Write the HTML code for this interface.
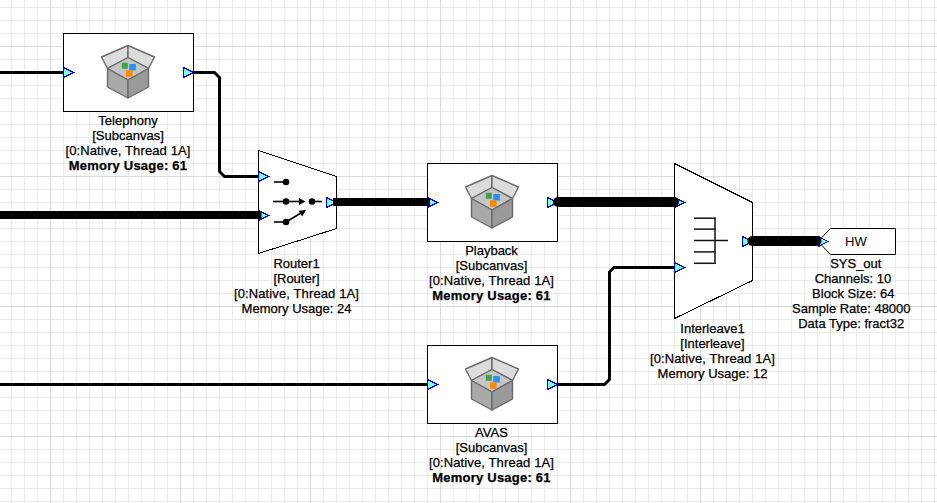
<!DOCTYPE html>
<html><head><meta charset="utf-8"><style>
html,body{margin:0;padding:0;background:#fff;}
#c{position:relative;width:937px;height:503px;overflow:hidden;background:#fff;}
svg{position:absolute;left:0;top:0;}
#c div.l,#c > div:not(.hw){position:absolute;width:200px;text-align:center;font-family:"Liberation Sans",sans-serif;font-size:13px;line-height:15px;color:#000;white-space:nowrap;-webkit-text-stroke:0.25px #000;}
.b{font-weight:bold;letter-spacing:0.22px;}
.n{letter-spacing:0.12px;}
.hw{position:absolute;font-family:"Liberation Sans",sans-serif;font-size:13px;line-height:15px;color:#000;}
</style></head><body><div id="c">
<svg width="937" height="503" viewBox="0 0 937 503">
<g shape-rendering="crispEdges">
<rect x="11" y="0" width="1" height="503" fill="#ebebeb"/>
<rect x="24" y="0" width="1" height="503" fill="#ebebeb"/>
<rect x="37" y="0" width="1" height="503" fill="#ebebeb"/>
<rect x="63" y="0" width="1" height="503" fill="#ebebeb"/>
<rect x="76" y="0" width="1" height="503" fill="#ebebeb"/>
<rect x="89" y="0" width="1" height="503" fill="#ebebeb"/>
<rect x="102" y="0" width="1" height="503" fill="#ebebeb"/>
<rect x="115" y="0" width="1" height="503" fill="#ebebeb"/>
<rect x="128" y="0" width="1" height="503" fill="#ebebeb"/>
<rect x="141" y="0" width="1" height="503" fill="#ebebeb"/>
<rect x="154" y="0" width="1" height="503" fill="#ebebeb"/>
<rect x="167" y="0" width="1" height="503" fill="#ebebeb"/>
<rect x="193" y="0" width="1" height="503" fill="#ebebeb"/>
<rect x="206" y="0" width="1" height="503" fill="#ebebeb"/>
<rect x="219" y="0" width="1" height="503" fill="#ebebeb"/>
<rect x="232" y="0" width="1" height="503" fill="#ebebeb"/>
<rect x="245" y="0" width="1" height="503" fill="#ebebeb"/>
<rect x="258" y="0" width="1" height="503" fill="#ebebeb"/>
<rect x="271" y="0" width="1" height="503" fill="#ebebeb"/>
<rect x="284" y="0" width="1" height="503" fill="#ebebeb"/>
<rect x="297" y="0" width="1" height="503" fill="#ebebeb"/>
<rect x="323" y="0" width="1" height="503" fill="#ebebeb"/>
<rect x="336" y="0" width="1" height="503" fill="#ebebeb"/>
<rect x="349" y="0" width="1" height="503" fill="#ebebeb"/>
<rect x="362" y="0" width="1" height="503" fill="#ebebeb"/>
<rect x="375" y="0" width="1" height="503" fill="#ebebeb"/>
<rect x="388" y="0" width="1" height="503" fill="#ebebeb"/>
<rect x="401" y="0" width="1" height="503" fill="#ebebeb"/>
<rect x="414" y="0" width="1" height="503" fill="#ebebeb"/>
<rect x="427" y="0" width="1" height="503" fill="#ebebeb"/>
<rect x="453" y="0" width="1" height="503" fill="#ebebeb"/>
<rect x="466" y="0" width="1" height="503" fill="#ebebeb"/>
<rect x="479" y="0" width="1" height="503" fill="#ebebeb"/>
<rect x="492" y="0" width="1" height="503" fill="#ebebeb"/>
<rect x="505" y="0" width="1" height="503" fill="#ebebeb"/>
<rect x="518" y="0" width="1" height="503" fill="#ebebeb"/>
<rect x="531" y="0" width="1" height="503" fill="#ebebeb"/>
<rect x="544" y="0" width="1" height="503" fill="#ebebeb"/>
<rect x="557" y="0" width="1" height="503" fill="#ebebeb"/>
<rect x="583" y="0" width="1" height="503" fill="#ebebeb"/>
<rect x="596" y="0" width="1" height="503" fill="#ebebeb"/>
<rect x="609" y="0" width="1" height="503" fill="#ebebeb"/>
<rect x="622" y="0" width="1" height="503" fill="#ebebeb"/>
<rect x="635" y="0" width="1" height="503" fill="#ebebeb"/>
<rect x="648" y="0" width="1" height="503" fill="#ebebeb"/>
<rect x="661" y="0" width="1" height="503" fill="#ebebeb"/>
<rect x="674" y="0" width="1" height="503" fill="#ebebeb"/>
<rect x="687" y="0" width="1" height="503" fill="#ebebeb"/>
<rect x="713" y="0" width="1" height="503" fill="#ebebeb"/>
<rect x="726" y="0" width="1" height="503" fill="#ebebeb"/>
<rect x="739" y="0" width="1" height="503" fill="#ebebeb"/>
<rect x="752" y="0" width="1" height="503" fill="#ebebeb"/>
<rect x="765" y="0" width="1" height="503" fill="#ebebeb"/>
<rect x="778" y="0" width="1" height="503" fill="#ebebeb"/>
<rect x="791" y="0" width="1" height="503" fill="#ebebeb"/>
<rect x="804" y="0" width="1" height="503" fill="#ebebeb"/>
<rect x="817" y="0" width="1" height="503" fill="#ebebeb"/>
<rect x="843" y="0" width="1" height="503" fill="#ebebeb"/>
<rect x="856" y="0" width="1" height="503" fill="#ebebeb"/>
<rect x="869" y="0" width="1" height="503" fill="#ebebeb"/>
<rect x="882" y="0" width="1" height="503" fill="#ebebeb"/>
<rect x="895" y="0" width="1" height="503" fill="#ebebeb"/>
<rect x="908" y="0" width="1" height="503" fill="#ebebeb"/>
<rect x="921" y="0" width="1" height="503" fill="#ebebeb"/>
<rect x="934" y="0" width="1" height="503" fill="#ebebeb"/>
<rect x="0" y="7" width="937" height="1" fill="#ebebeb"/>
<rect x="0" y="20" width="937" height="1" fill="#ebebeb"/>
<rect x="0" y="33" width="937" height="1" fill="#ebebeb"/>
<rect x="0" y="59" width="937" height="1" fill="#ebebeb"/>
<rect x="0" y="72" width="937" height="1" fill="#ebebeb"/>
<rect x="0" y="85" width="937" height="1" fill="#ebebeb"/>
<rect x="0" y="98" width="937" height="1" fill="#ebebeb"/>
<rect x="0" y="111" width="937" height="1" fill="#ebebeb"/>
<rect x="0" y="124" width="937" height="1" fill="#ebebeb"/>
<rect x="0" y="137" width="937" height="1" fill="#ebebeb"/>
<rect x="0" y="150" width="937" height="1" fill="#ebebeb"/>
<rect x="0" y="163" width="937" height="1" fill="#ebebeb"/>
<rect x="0" y="189" width="937" height="1" fill="#ebebeb"/>
<rect x="0" y="202" width="937" height="1" fill="#ebebeb"/>
<rect x="0" y="215" width="937" height="1" fill="#ebebeb"/>
<rect x="0" y="228" width="937" height="1" fill="#ebebeb"/>
<rect x="0" y="241" width="937" height="1" fill="#ebebeb"/>
<rect x="0" y="254" width="937" height="1" fill="#ebebeb"/>
<rect x="0" y="267" width="937" height="1" fill="#ebebeb"/>
<rect x="0" y="280" width="937" height="1" fill="#ebebeb"/>
<rect x="0" y="293" width="937" height="1" fill="#ebebeb"/>
<rect x="0" y="319" width="937" height="1" fill="#ebebeb"/>
<rect x="0" y="332" width="937" height="1" fill="#ebebeb"/>
<rect x="0" y="345" width="937" height="1" fill="#ebebeb"/>
<rect x="0" y="358" width="937" height="1" fill="#ebebeb"/>
<rect x="0" y="371" width="937" height="1" fill="#ebebeb"/>
<rect x="0" y="384" width="937" height="1" fill="#ebebeb"/>
<rect x="0" y="397" width="937" height="1" fill="#ebebeb"/>
<rect x="0" y="410" width="937" height="1" fill="#ebebeb"/>
<rect x="0" y="423" width="937" height="1" fill="#ebebeb"/>
<rect x="0" y="449" width="937" height="1" fill="#ebebeb"/>
<rect x="0" y="462" width="937" height="1" fill="#ebebeb"/>
<rect x="0" y="475" width="937" height="1" fill="#ebebeb"/>
<rect x="0" y="488" width="937" height="1" fill="#ebebeb"/>
<rect x="0" y="501" width="937" height="1" fill="#ebebeb"/>
<rect x="50" y="0" width="1" height="503" fill="#d9d9d9"/>
<rect x="180" y="0" width="1" height="503" fill="#d9d9d9"/>
<rect x="310" y="0" width="1" height="503" fill="#d9d9d9"/>
<rect x="440" y="0" width="1" height="503" fill="#d9d9d9"/>
<rect x="570" y="0" width="1" height="503" fill="#d9d9d9"/>
<rect x="700" y="0" width="1" height="503" fill="#d9d9d9"/>
<rect x="830" y="0" width="1" height="503" fill="#d9d9d9"/>
<rect x="0" y="46" width="937" height="1" fill="#d9d9d9"/>
<rect x="0" y="176" width="937" height="1" fill="#d9d9d9"/>
<rect x="0" y="306" width="937" height="1" fill="#d9d9d9"/>
<rect x="0" y="436" width="937" height="1" fill="#d9d9d9"/>
</g>
<rect x="63.5" y="33.5" width="130" height="78" fill="#fff" stroke="#000" stroke-width="1"/>
<polygon points="107.5,68.5 101.5,57 128,45.5 128,57.5" fill="#dcdcdc" stroke="#6b6b6b" stroke-width="1.4" stroke-linejoin="round"/>
<polygon points="128,57.5 128,45.5 154.5,57 148.5,68.5" fill="#dcdcdc" stroke="#6b6b6b" stroke-width="1.4" stroke-linejoin="round"/>
<polygon points="107.5,68.5 128,57.5 148.5,68.5 128,80" fill="#c6c6c6" stroke="#6b6b6b" stroke-width="1.4" stroke-linejoin="round"/>
<rect x="121.8" y="62.8" width="6" height="6" fill="#3da34a"/>
<rect x="129.3" y="64" width="6.5" height="6.5" fill="#2a8ff0"/>
<rect x="126" y="70.3" width="6.5" height="6.5" fill="#ff8a00"/>
<polygon points="107.5,68.5 128,80 128,98 107.5,87" fill="#a9a9a9" stroke="#6b6b6b" stroke-width="1.4" stroke-linejoin="round"/>
<polygon points="128,80 148.5,68.5 148.5,87 128,98" fill="#9a9a9a" stroke="#6b6b6b" stroke-width="1.4" stroke-linejoin="round"/>
<polygon points="63.5,67.5 73.5,72.5 63.5,77.5" fill="#7fffd4" stroke="#0000ff" stroke-width="1" stroke-miterlimit="10" shape-rendering="crispEdges"/>
<polygon points="183.5,67.5 193.5,72.5 183.5,77.5" fill="#7fffd4" stroke="#0000ff" stroke-width="1" stroke-miterlimit="10" shape-rendering="crispEdges"/>
<rect x="427.5" y="163.5" width="130" height="78" fill="#fff" stroke="#000" stroke-width="1"/>
<polygon points="471.5,198.5 465.5,187 492,175.5 492,187.5" fill="#dcdcdc" stroke="#6b6b6b" stroke-width="1.4" stroke-linejoin="round"/>
<polygon points="492,187.5 492,175.5 518.5,187 512.5,198.5" fill="#dcdcdc" stroke="#6b6b6b" stroke-width="1.4" stroke-linejoin="round"/>
<polygon points="471.5,198.5 492,187.5 512.5,198.5 492,210" fill="#c6c6c6" stroke="#6b6b6b" stroke-width="1.4" stroke-linejoin="round"/>
<rect x="485.8" y="192.8" width="6" height="6" fill="#3da34a"/>
<rect x="493.3" y="194" width="6.5" height="6.5" fill="#2a8ff0"/>
<rect x="490" y="200.3" width="6.5" height="6.5" fill="#ff8a00"/>
<polygon points="471.5,198.5 492,210 492,228 471.5,217" fill="#a9a9a9" stroke="#6b6b6b" stroke-width="1.4" stroke-linejoin="round"/>
<polygon points="492,210 512.5,198.5 512.5,217 492,228" fill="#9a9a9a" stroke="#6b6b6b" stroke-width="1.4" stroke-linejoin="round"/>
<polygon points="427.5,197.5 437.5,202.5 427.5,207.5" fill="#7fffd4" stroke="#0000ff" stroke-width="1" stroke-miterlimit="10" shape-rendering="crispEdges"/>
<polygon points="547.5,197.5 557.5,202.5 547.5,207.5" fill="#7fffd4" stroke="#0000ff" stroke-width="1" stroke-miterlimit="10" shape-rendering="crispEdges"/>
<rect x="427.5" y="345.5" width="130" height="78" fill="#fff" stroke="#000" stroke-width="1"/>
<polygon points="471.5,380.5 465.5,369 492,357.5 492,369.5" fill="#dcdcdc" stroke="#6b6b6b" stroke-width="1.4" stroke-linejoin="round"/>
<polygon points="492,369.5 492,357.5 518.5,369 512.5,380.5" fill="#dcdcdc" stroke="#6b6b6b" stroke-width="1.4" stroke-linejoin="round"/>
<polygon points="471.5,380.5 492,369.5 512.5,380.5 492,392" fill="#c6c6c6" stroke="#6b6b6b" stroke-width="1.4" stroke-linejoin="round"/>
<rect x="485.8" y="374.8" width="6" height="6" fill="#3da34a"/>
<rect x="493.3" y="376" width="6.5" height="6.5" fill="#2a8ff0"/>
<rect x="490" y="382.3" width="6.5" height="6.5" fill="#ff8a00"/>
<polygon points="471.5,380.5 492,392 492,410 471.5,399" fill="#a9a9a9" stroke="#6b6b6b" stroke-width="1.4" stroke-linejoin="round"/>
<polygon points="492,392 512.5,380.5 512.5,399 492,410" fill="#9a9a9a" stroke="#6b6b6b" stroke-width="1.4" stroke-linejoin="round"/>
<polygon points="427.5,379.5 437.5,384.5 427.5,389.5" fill="#7fffd4" stroke="#0000ff" stroke-width="1" stroke-miterlimit="10" shape-rendering="crispEdges"/>
<polygon points="547.5,379.5 557.5,384.5 547.5,389.5" fill="#7fffd4" stroke="#0000ff" stroke-width="1" stroke-miterlimit="10" shape-rendering="crispEdges"/>
<polygon points="258.5,150.5 336.5,176.5 336.5,228.5 258.5,253.5" fill="#fff" stroke="#000" stroke-width="1" shape-rendering="crispEdges"/>
<line x1="274" y1="182" x2="286" y2="182" stroke="#000" stroke-width="1.6"/>
<circle cx="286" cy="182" r="3.3" fill="#000"/>
<line x1="273" y1="201.5" x2="300" y2="201.5" stroke="#000" stroke-width="1.6"/>
<circle cx="286" cy="201.5" r="3.3" fill="#000"/>
<polygon points="299,198 305.5,201.5 299,205" fill="#000"/>
<circle cx="312" cy="201.5" r="3.3" fill="#000"/>
<line x1="312" y1="201.5" x2="322" y2="201.5" stroke="#000" stroke-width="1.6"/>
<line x1="274" y1="222" x2="286" y2="222" stroke="#000" stroke-width="1.6"/>
<circle cx="286" cy="222" r="3.3" fill="#000"/>
<line x1="286" y1="222" x2="301" y2="213" stroke="#000" stroke-width="1.6"/>
<polygon points="306,210 298.5,210.8 302.2,216.5" fill="#000"/>
<polygon points="258.5,171.5 268.5,176.5 258.5,181.5" fill="#7fffd4" stroke="#0000ff" stroke-width="1" stroke-miterlimit="10" shape-rendering="crispEdges"/>
<polygon points="258.5,210.5 268.5,215.5 258.5,220.5" fill="#7fffd4" stroke="#0000ff" stroke-width="1" stroke-miterlimit="10" shape-rendering="crispEdges"/>
<polygon points="326.5,197.5 336.5,202.5 326.5,207.5" fill="#7fffd4" stroke="#0000ff" stroke-width="1" stroke-miterlimit="10" shape-rendering="crispEdges"/>
<polygon points="674.5,163.5 752.5,202.5 752.5,280.5 674.5,318.5" fill="#fff" stroke="#000" stroke-width="1" shape-rendering="crispEdges"/>
<line x1="694" y1="218.2" x2="715.5" y2="218.2" stroke="#111" stroke-width="1.5"/>
<line x1="694" y1="229.1" x2="715.5" y2="229.1" stroke="#111" stroke-width="1.5"/>
<line x1="694" y1="240.5" x2="715.5" y2="240.5" stroke="#111" stroke-width="1.5"/>
<line x1="694" y1="251.9" x2="715.5" y2="251.9" stroke="#111" stroke-width="1.5"/>
<line x1="694" y1="263.3" x2="715.5" y2="263.3" stroke="#111" stroke-width="1.5"/>
<line x1="715" y1="217.5" x2="715" y2="264" stroke="#111" stroke-width="1.5"/>
<line x1="715" y1="240.5" x2="728" y2="240.5" stroke="#111" stroke-width="1.5"/>
<polygon points="674.5,197.5 684.5,202.5 674.5,207.5" fill="#7fffd4" stroke="#0000ff" stroke-width="1" stroke-miterlimit="10" shape-rendering="crispEdges"/>
<polygon points="674.5,262.5 684.5,267.5 674.5,272.5" fill="#7fffd4" stroke="#0000ff" stroke-width="1" stroke-miterlimit="10" shape-rendering="crispEdges"/>
<polygon points="742.5,236.5 752.5,241.5 742.5,246.5" fill="#7fffd4" stroke="#0000ff" stroke-width="1" stroke-miterlimit="10" shape-rendering="crispEdges"/>
<polygon points="818,241.5 830.5,228.5 895.5,228.5 895.5,254.5 830.5,254.5" fill="#fff" stroke="#000" stroke-width="1"/>
<polygon points="818.5,236.5 828,241.5 818.5,246.5" fill="#7fffd4" stroke="#0000ff" stroke-width="1" shape-rendering="crispEdges"/>
<path d="M0,72.5 L63,72.5" fill="none" stroke="#000" stroke-linejoin="miter" stroke-width="3"/>
<path d="M193,72.5 L214.5,72.5 L219.5,77.5 L219.5,171.5 L224.5,176.5 L258,176.5" fill="none" stroke="#000" stroke-linejoin="miter" stroke-width="3"/>
<path d="M0,384.5 L427,384.5" fill="none" stroke="#000" stroke-linejoin="miter" stroke-width="3"/>
<path d="M557,384.5 L604.5,384.5 L609.5,379.5 L609.5,272 L614,267.5 L674,267.5" fill="none" stroke="#000" stroke-linejoin="miter" stroke-width="3"/>
<path d="M0,215 L261.5,215" fill="none" stroke="#000" stroke-linejoin="miter" stroke-width="8"/>
<path d="M333,202 L430,202" fill="none" stroke="#000" stroke-linejoin="miter" stroke-width="8"/>
<path d="M558,202 L674,202" fill="none" stroke="#000" stroke-width="10" stroke-linecap="round"/>
<path d="M752.5,241 L816.5,241" fill="none" stroke="#000" stroke-width="10" stroke-linecap="round"/>
</svg>
<div style="left:28px;top:113px">Telephony</div><div style="left:28px;top:128px">[Subcanvas]</div><div class="n" style="left:28px;top:143px">[0:Native, Thread 1A]</div><div class="b" style="left:28px;top:158px">Memory Usage: 61</div>
<div style="left:196.5px;top:255.5px">Router1</div><div style="left:196.5px;top:270.5px">[Router]</div><div class="n" style="left:196.5px;top:285.5px">[0:Native, Thread 1A]</div><div style="left:196.5px;top:300.5px">Memory Usage: 24</div>
<div style="left:391.5px;top:243px">Playback</div><div style="left:391.5px;top:258px">[Subcanvas]</div><div class="n" style="left:391.5px;top:273px">[0:Native, Thread 1A]</div><div class="b" style="left:391.5px;top:288px">Memory Usage: 61</div>
<div style="left:391.5px;top:425px">AVAS</div><div style="left:391.5px;top:440px">[Subcanvas]</div><div class="n" style="left:391.5px;top:455px">[0:Native, Thread 1A]</div><div class="b" style="left:391.5px;top:470px">Memory Usage: 61</div>
<div style="left:612.5px;top:320.5px">Interleave1</div><div style="left:612.5px;top:335.5px">[Interleave]</div><div class="n" style="left:612.5px;top:350.5px">[0:Native, Thread 1A]</div><div style="left:612.5px;top:365.5px">Memory Usage: 12</div>
<div style="left:755.8px;top:256px">SYS_out</div><div style="left:753px;top:271px">Channels: 10</div><div style="left:753.3px;top:286px">Block Size: 64</div><div style="left:751.3px;top:301px">Sample Rate: 48000</div><div style="left:751.2px;top:316px">Data Type: fract32</div>
<div class="hw" style="left:845px;top:234px">HW</div>
</div></body></html>
